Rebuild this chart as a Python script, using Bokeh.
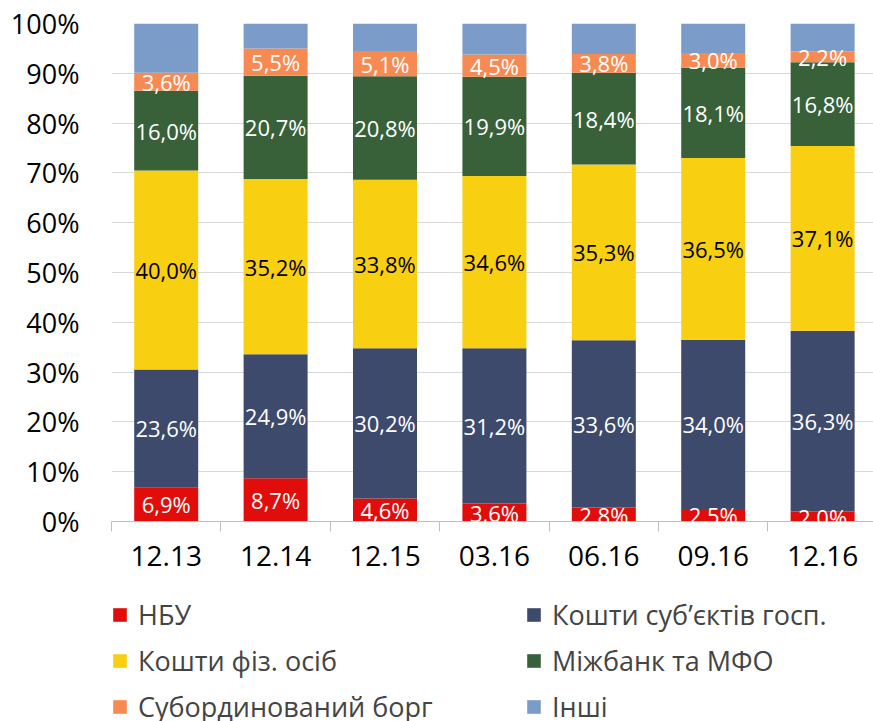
from bokeh.plotting import figure
from bokeh.models import ColumnDataSource, FixedTicker, Range1d, Legend, LegendItem, LabelSet
from bokeh.layouts import column
from bokeh.core.properties import value
from bokeh.embed import file_html
from bokeh.resources import INLINE

categories = ["12.13", "12.14", "12.15", "03.16", "06.16", "09.16", "12.16"]
series_names = ["НБУ", "Кошти суб’єктів госп.", "Кошти фіз. осіб", "Міжбанк та МФО", "Субординований борг", "Інші"]
nbu = [6.9, 8.7, 4.6, 3.6, 2.8, 2.5, 2.0]
corp = [23.6, 24.9, 30.2, 31.2, 33.6, 34.0, 36.3]
retail = [40.0, 35.2, 33.8, 34.6, 35.3, 36.5, 37.1]
interbank = [16.0, 20.7, 20.8, 19.9, 18.4, 18.1, 16.8]
subdebt = [3.6, 5.5, 5.1, 4.5, 3.8, 3.0, 2.2]
other = [9.9, 5.0, 5.5, 6.2, 6.1, 5.9, 5.6]
y_ticks = [0, 10, 20, 30, 40, 50, 60, 70, 80, 90, 100]

colors = ["#E00D0A", "#3D4A6B", "#F9CF12", "#38613A", "#F68A52", "#7B9BC8"]
label_colors = ["white", "white", "black", "white", "white", None]
series = [nbu, corp, retail, interbank, subdebt, other]
keys = ["s0", "s1", "s2", "s3", "s4", "s5"]

xs = [i + 0.5 for i in range(len(categories))]
data = {"x": xs}
for k, s in zip(keys, series):
    data[k] = s
source = ColumnDataSource(data)

FONT = "Open Sans"

p = figure(frame_width=762, frame_height=498, output_backend="svg", toolbar_location=None,
           x_range=Range1d(0, 6.965), y_range=Range1d(0, 100))
p.min_border_left = 111
p.min_border_right = 0
p.min_border_top = 23
p.min_border_bottom = 60
p.outline_line_color = None
p.background_fill_color = "white"

renderers = p.vbar_stack(keys, x="x", width=0.585, color=colors, source=source, line_color=None)

# labels
lx, ly, lt, lc = [], [], [], []
for i in range(len(categories)):
    cum = 0.0
    for j, s in enumerate(series):
        v = s[i]
        if label_colors[j] is not None:
            lx.append(xs[i])
            ly.append(cum + v / 2.0)
            lt.append(f"{v:.1f}%".replace(".", ","))
            lc.append(label_colors[j])
        cum += v
lsrc = ColumnDataSource(dict(x=lx, y=ly, t=lt, c=lc))
labels = LabelSet(x="x", y="y", text="t", source=lsrc, text_color="c",
                  text_align="center", text_baseline="middle",
                  text_font=value(FONT), text_font_size="22px")
p.add_layout(labels)

# axes
p.xaxis.ticker = FixedTicker(ticks=xs, minor_ticks=list(range(len(categories) + 1)))
p.xaxis.major_label_overrides = {x: c for x, c in zip(xs, categories)}
p.xaxis.major_tick_line_color = None
p.xaxis.minor_tick_line_color = "#BFBFBF"
p.xaxis.minor_tick_out = 10
p.xaxis.minor_tick_in = 0
p.xaxis.axis_line_color = "#BFBFBF"
p.xaxis.major_label_text_font = FONT
p.xaxis.major_label_text_font_size = "28px"
p.xaxis.major_label_text_color = "black"
p.xaxis.major_label_standoff = 14

p.yaxis.ticker = FixedTicker(ticks=y_ticks)
p.yaxis.major_label_overrides = {t: f"{t}%" for t in y_ticks}
p.yaxis.axis_line_color = None
p.yaxis.major_tick_line_color = None
p.yaxis.minor_tick_line_color = None
p.yaxis.major_label_text_font = FONT
p.yaxis.major_label_text_font_size = "27px"
p.yaxis.major_label_text_color = "black"
p.yaxis.major_label_standoff = 26

p.xgrid.grid_line_color = None
p.ygrid.ticker = FixedTicker(ticks=y_ticks)
p.ygrid.grid_line_color = "#D9D9D9"
p.ygrid.grid_line_width = 1

# legend figure (same series, drawn outside its visible range so only the legend shows)
lg = figure(width=873, height=140, output_backend="svg", toolbar_location=None,
            x_range=Range1d(0, 6.965), y_range=Range1d(1000, 1001), min_border=0)
lg.axis.visible = False
lg.grid.visible = False
lg.outline_line_color = None
lg_r = lg.vbar_stack(keys, x="x", width=0.585, color=colors, source=source, line_color=None)

order = [0, 2, 4, 1, 3, 5]
items = [LegendItem(label=series_names[i], renderers=[lg_r[i]]) for i in order]
legend = Legend(items=items, ncols=2, orientation="vertical", location=(0, -4),
                label_text_font=FONT, label_text_font_size="27px",
                glyph_width=17, glyph_height=17, label_standoff=10,
                label_height=26, label_width=378, spacing=9, padding=0, margin=0,
                border_line_color=None, background_fill_alpha=0)
lg.add_layout(legend, "center")

open("out.html", "w").write(file_html(column(p, lg), INLINE))
